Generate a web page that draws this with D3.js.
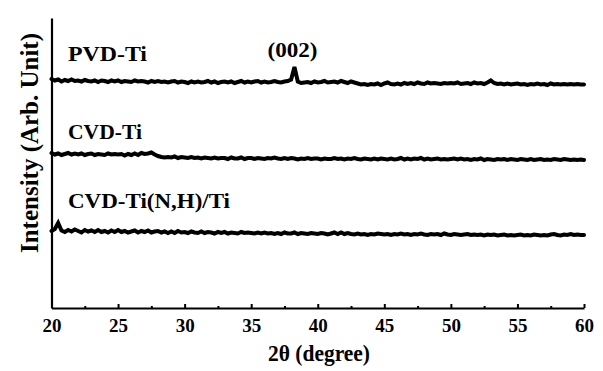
<!DOCTYPE html>
<html>
<head>
<meta charset="utf-8">
<script src="https://cdn.jsdelivr.net/npm/d3@7"></script>
<style>
  body { margin: 0; background: #fff; }
  svg { display: block; }
  text { font-family: "Liberation Serif", "DejaVu Serif", "Times New Roman", serif !important; font-weight: bold; fill: #000; }
</style>
</head>
<body>
<svg id="chart" width="603" height="371"></svg>
<script>
// Data //
const angleStep = 0.25
const angles = d3.range(20, 60 + angleStep / 2, angleStep)

const pvdTi = [
  229, 227.5, 228.5, 226.5,  228, 227, 228.5, 227,  227.5, 226.5, 228, 227,  226.5, 227.5, 226, 227.5,
  227, 226, 227.5, 226.5,  227.5, 226, 227, 226.5,  226, 227.5, 226.5, 227,  226.5, 225.5, 227, 226,
  227, 226, 226.5, 225.5,  226.5, 227, 225.5, 226.5,  226, 225, 226.5, 225.5,  226.5, 225.5, 226, 227,
  225.5, 226.5, 225, 226,  226.5, 225.5, 226.5, 225,  226, 227, 225.5, 226.5,  225.5, 226.5, 227, 225.5,
  226.5, 225.5, 226, 227,  226, 225.5, 226.5, 227,  228.5, 241, 226.5, 225,  225.5, 226, 225, 226.5,
  225.5, 226, 227, 225.5,  226, 226.5, 225.5, 227,  226, 225, 226.5, 225.5,  224.5, 223.5, 224, 223,
  224, 223.5, 224.5, 223,  224.5, 225.5, 224, 223.5,  224.5, 223.5, 225, 224,  225, 224, 225.5, 224.5,
  224, 225.5, 224.5, 225,  224.5, 224, 225, 224.5,  225, 224.5, 225.5, 224,  224.5, 225, 224, 225.5,
  224.5, 225, 224, 225.5,  227.5, 225, 224, 224.5,  223.5, 224.5, 223.5, 224,  224.5, 223.5, 224, 223,
  224, 223.5, 224.5, 223.5,  224, 223, 224.5, 223.5,  224, 223.5, 224, 223.5,  224, 223.5, 224, 223.5,
  223.5
]

const cvdTi = [
  155, 153.5, 154.5, 153,  154, 155, 153.5, 154.5,  153.5, 154.5, 153, 154,  154.5, 153, 154, 153.5,
  153, 154.5, 153.5, 154,  153.5, 154, 152.5, 154,  153, 154.5, 153, 155,  154, 154.5, 155.5, 153.5,
  152, 151, 150.5, 151,  150.5, 151.5, 150, 151,  150.5, 150, 151, 150,  150.5, 149.5, 150.5, 150,
  149.5, 150.5, 149.5, 150,  150, 149, 150.5, 149.5,  149.5, 150.5, 149, 150,  150, 149, 150, 149.5,
  149, 150, 149.5, 150.5,  149.5, 149, 150, 149,  150, 149.5, 148.5, 149.5,  149, 150, 149, 149.5,
  149.5, 148.5, 149.5, 149,  149, 150, 149, 149.5,  148.5, 149.5, 149, 150,  149, 148.5, 149.5, 149,
  148.5, 149.5, 148.5, 149.5,  149, 148.5, 149.5, 148.5,  149, 150, 148.5, 149.5,  148.5, 149.5, 149, 150,
  148.5, 149.5, 148.5, 149,  149.5, 148.5, 149, 148.5,  149, 149.5, 148.5, 149.5,  148.5, 149, 148, 149,
  148.5, 149.5, 148, 149,  148.5, 148, 149, 148.5,  149, 148, 149, 148.5,  148, 149, 148.5, 148,
  149, 148, 148.5, 149,  148, 148.5, 148, 149,  148.5, 148, 149, 148.5,  148, 148.5, 148, 148.5,
  148
]

const cvdTiNH = [
  77, 79, 85, 77.5,  76, 78, 76.5, 78.5,  77, 75.5, 78, 76.5,  77.5, 76, 78, 76,
  77, 75.5, 77.5, 76,  78, 76, 77, 75.5,  76.5, 77.5, 75.5, 77,  76, 77.5, 75.5, 76.5,
  77, 75.5, 76.5, 75,  76.5, 75, 77, 75.5,  76, 75, 76.5, 75.5,  75, 76.5, 75, 76,
  75.5, 74.5, 76, 75,  76, 74.5, 75.5, 75,  74.5, 76, 75, 75.5,  75, 74.5, 75.5, 74.5,
  75.5, 74.5, 75, 74,  75, 74, 75.5, 74.5,  74.5, 75.5, 74, 75,  74.5, 74, 75, 74.5,
  74, 75, 74.5, 73.5,  74.5, 75.5, 74, 75.5,  74, 75, 74, 73.5,  74.5, 73.5, 74, 73,
  74, 73.5, 74.5, 74,  73.5, 74, 73, 74,  73.5, 74.5, 73.5, 74,  73, 74, 73.5, 74.5,
  73.5, 73, 74, 73.5,  74, 73, 74.5, 73.5,  73, 74, 73.5, 73,  73.5, 74, 73, 73.5,
  73, 73.5, 72.5, 73.5,  73, 73.5, 72.5, 73,  73.5, 72.5, 73, 72.5,  73, 73.5, 72.5, 73,
  72.5, 73.5, 73, 72.5,  73, 72.5, 73.5, 74,  73, 72.5, 73.5, 73,  74, 73, 73.5, 73,
  73
]

const seriesNames = ['PVD-Ti', 'CVD-Ti', 'CVD-Ti(N,H)/Ti']
const seriesValues = [pvdTi, cvdTi, cvdTiNH]
const majorTicks = [20, 25, 30, 35, 40, 45, 50, 55, 60]
const minorTicks = [22.5, 27.5, 32.5, 37.5, 42.5, 47.5, 52.5, 57.5]
const peakLabel = { text: '(002)', angle: 38.25 }

// Layout //
const margin = { top: 18, right: 19, bottom: 63, left: 51.5 }
const width = 603 - margin.left - margin.right
const height = 371 - margin.top - margin.bottom
const labelBaselines = [61, 139, 208]
const labelLengths = [79, 74, 162]

const svg = d3.select('#chart')
const g = svg.append('g').attr('transform', `translate(${margin.left},${margin.top})`)

const x = d3.scaleLinear().domain([20, 60]).range([0, width])
const y = d3.scaleLinear().domain([0, 290]).range([height, 0])

// Traces //
const line = d3.line()
  .x((d, i) => x(angles[i]))
  .y(d => y(d))

g.selectAll('.trace')
  .data(seriesValues)
  .enter()
  .append('path')
    .attr('class', 'trace')
    .attr('d', line)
    .attr('fill', 'none')
    .attr('stroke', '#000')
    .attr('stroke-width', 4)
    .attr('stroke-linejoin', 'miter')
    .attr('stroke-linecap', 'round')

// Axes //
const xAxis = g.append('g')
  .attr('transform', `translate(0,${height})`)
  .call(d3.axisBottom(x).tickValues(majorTicks).tickSize(-4).tickSizeOuter(0).tickFormat(d3.format('d')))

xAxis.select('.domain').attr('stroke-width', 2.2)
xAxis.selectAll('.tick line').attr('stroke-width', 2)
xAxis.selectAll('.tick text')
  .attr('y', 24)
  .attr('dy', null)
  .attr('font-family', null)
  .style('font-size', '19px')

g.append('g')
  .attr('transform', `translate(0,${height})`)
  .call(d3.axisBottom(x).tickValues(minorTicks).tickSize(-2).tickSizeOuter(0).tickFormat(''))
  .call(a => a.select('.domain').remove())
  .selectAll('.tick line').attr('stroke-width', 2)

g.append('g')
  .call(d3.axisLeft(y).tickValues([]).tickSizeOuter(0))
  .select('.domain').attr('stroke-width', 2.2)

// Labels //
g.selectAll('.series-label')
  .data(seriesNames)
  .enter()
  .append('text')
    .attr('class', 'series-label')
    .attr('x', 68 - margin.left)
    .attr('y', (d, i) => labelBaselines[i] - margin.top)
    .attr('textLength', (d, i) => labelLengths[i])
    .attr('lengthAdjust', 'spacingAndGlyphs')
    .style('font-size', '22px')
    .text(d => d)

g.append('text')
  .attr('x', x(peakLabel.angle) - 2)
  .attr('y', 57 - margin.top)
  .attr('text-anchor', 'middle')
  .attr('textLength', 50)
  .attr('lengthAdjust', 'spacingAndGlyphs')
  .style('font-size', '21px')
  .text(peakLabel.text)

svg.append('text')
  .attr('x', 268)
  .attr('y', 361)
  .attr('textLength', 102)
  .attr('lengthAdjust', 'spacingAndGlyphs')
  .style('font-size', '23px')
  .text('2θ (degree)')

svg.append('text')
  .attr('transform', 'translate(38,143) rotate(-90)')
  .attr('text-anchor', 'middle')
  .attr('textLength', 220)
  .attr('lengthAdjust', 'spacingAndGlyphs')
  .style('font-size', '25px')
  .text('Intensity (Arb. Unit)')
</script>
</body>
</html>
